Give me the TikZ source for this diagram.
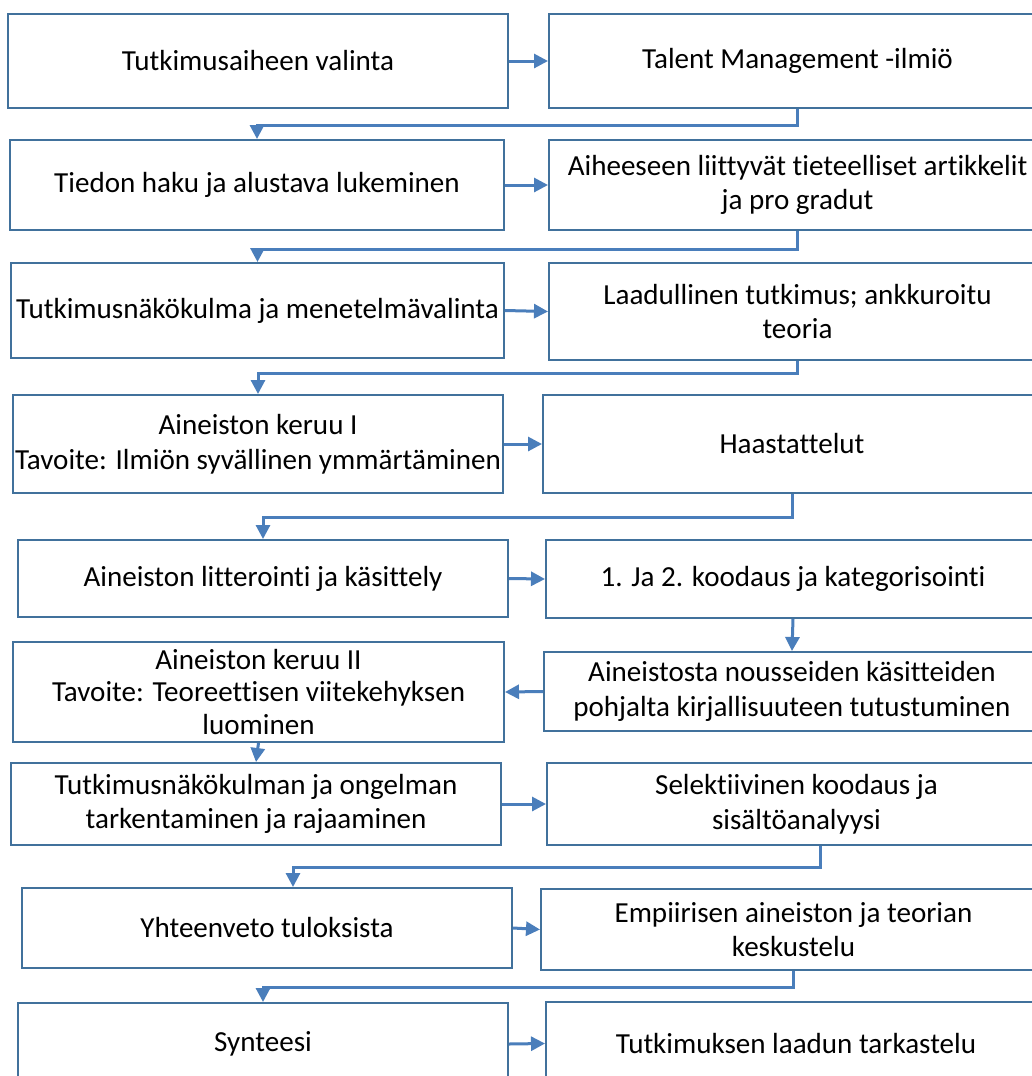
\documentclass[tikz,border=0pt]{standalone}
\usepackage{fontspec}
\setmainfont{Carlito}[Ligatures=NoCommon]
\usetikzlibrary{arrows.meta,calc}
\definecolor{edgeblue}{HTML}{41719C}
\definecolor{linkblue}{HTML}{4A7EBB}
\tikzset{
  stepbox/.style={draw=edgeblue, line width=1.5pt, fill=white, inner sep=1pt,
    align=center, text=black, font=\fontsize{21.8}{26}\selectfont},
  tight/.style={font=\fontsize{21.8}{24.5}\selectfont},
  link/.style={draw=linkblue, line width=2.25pt,
    -{Triangle[length=10.5pt,width=10.5pt]}},
}
\begin{document}
\begin{tikzpicture}[x=0.75pt,y=-0.75pt]
\useasboundingbox (0,0) rectangle (1032,1076);
\fill[white] (0,0) rectangle (1032,1076);
\clip (0,0) rectangle (1032,1076);

% left column: process steps
\node[stepbox, minimum width=375pt,   minimum height=70.5pt]  (A1) at (258,61)     {Tutkimusaiheen valinta};
\node[stepbox, minimum width=370.5pt, minimum height=67.5pt]  (A2) at (257,185)    {Tiedon haku ja alustava lukeminen};
\node[stepbox, minimum width=369.75pt,minimum height=71.25pt] (A3) at (257.5,310.5) {Tutkimusnäkökulma ja menetelmävalinta};
\node[stepbox, minimum width=367.5pt, minimum height=73.5pt]  (A4) at (258,444)    {Aineiston keruu I\\Tavoite: Ilmiön syvällinen ymmärtäminen};
\node[stepbox, minimum width=367.5pt, minimum height=57.75pt] (A5) at (263,578.5)  {Aineiston litterointi ja käsittely};
\node[stepbox, tight, minimum width=368.25pt,minimum height=75pt] (A6) at (258.5,692) {Aineiston keruu II\\Tavoite: Teoreettisen viitekehyksen\\luominen};
\node[stepbox, minimum width=367.5pt, minimum height=61.5pt]  (A7) at (256,804)    {Tutkimusnäkökulman ja ongelman\\tarkentaminen ja rajaaminen};
\node[stepbox, minimum width=367.5pt, minimum height=60pt]    (A8) at (267,928)    {Yhteenveto tuloksista};
\node[stepbox, minimum width=367.5pt, minimum height=61.5pt]  (A9) at (263,1044)   {Synteesi};

% right column: contents of each step
\node[stepbox, minimum width=372.75pt,minimum height=70.5pt]  (B1) at (797.5,61)   {Talent Management -ilmiö};
\node[stepbox, minimum width=372.75pt,minimum height=67.5pt]  (B2) at (797.5,185)  {Aiheeseen liittyvät tieteelliset artikkelit\\ja pro gradut};
\node[stepbox, minimum width=372.75pt,minimum height=72.75pt] (B3) at (797.5,311.5) {Laadullinen tutkimus; ankkuroitu\\teoria};
\node[stepbox, minimum width=373.5pt, minimum height=73.5pt]  (B4) at (792,444)    {Haastattelut};
\node[stepbox, minimum width=370.5pt, minimum height=58.5pt]  (B5) at (793,579)    {1. Ja 2. koodaus ja kategorisointi};
\node[stepbox, minimum width=372pt,   minimum height=59.25pt] (B6) at (792,691.5)  {Aineistosta nousseiden käsitteiden\\pohjalta kirjallisuuteen tutustuminen};
\node[stepbox, minimum width=374.25pt,minimum height=61.5pt]  (B7) at (796.5,804)  {Selektiivinen koodaus ja\\sisältöanalyysi};
\node[stepbox, minimum width=378.75pt,minimum height=60.75pt] (B8) at (793.5,929.5) {Empiirisen aineiston ja teorian\\keskustelu};
\node[stepbox, minimum width=375pt,   minimum height=62.25pt] (B9) at (796,1043.5) {Tutkimuksen laadun tarkastelu};

% horizontal links between the columns
\draw[link] (A1.east) -- (B1.west);
\draw[link] (A2.east) -- (B2.west);
\draw[link] (A3.east) -- (B3.west);
\draw[link] (A4.east) -- (B4.west);
\draw[link] (A5.east) -- (B5.west);
\draw[link] (B6.west) -- (A6.east);
\draw[link] (A7.east) -- (B7.west);
\draw[link] (A8.east) -- (B8.west);
\draw[link] (A9.east) -- (B9.west);

% links from one row to the next
\draw[link] (B1.south) -- ++(0,16) -| (A2.north);
\draw[link] (B2.south) -- ++(0,18) -| (A3.north);
\draw[link] (B3.south) -- ++(0,12) -| (A4.north);
\draw[link] (B4.south) -- ++(0,23) -| (A5.north);
\draw[link] (B5.south) -- (B6.north);
\draw[link] (A6.south) -- (A7.north);
\draw[link] ($(B7.south)+(23.5,0)$) -- ++(0,21) -| ($(A8.north)+(26,0)$);
\draw[link] (B8.south) -- ++(0,16) -| (A9.north);
\end{tikzpicture}
\end{document}
